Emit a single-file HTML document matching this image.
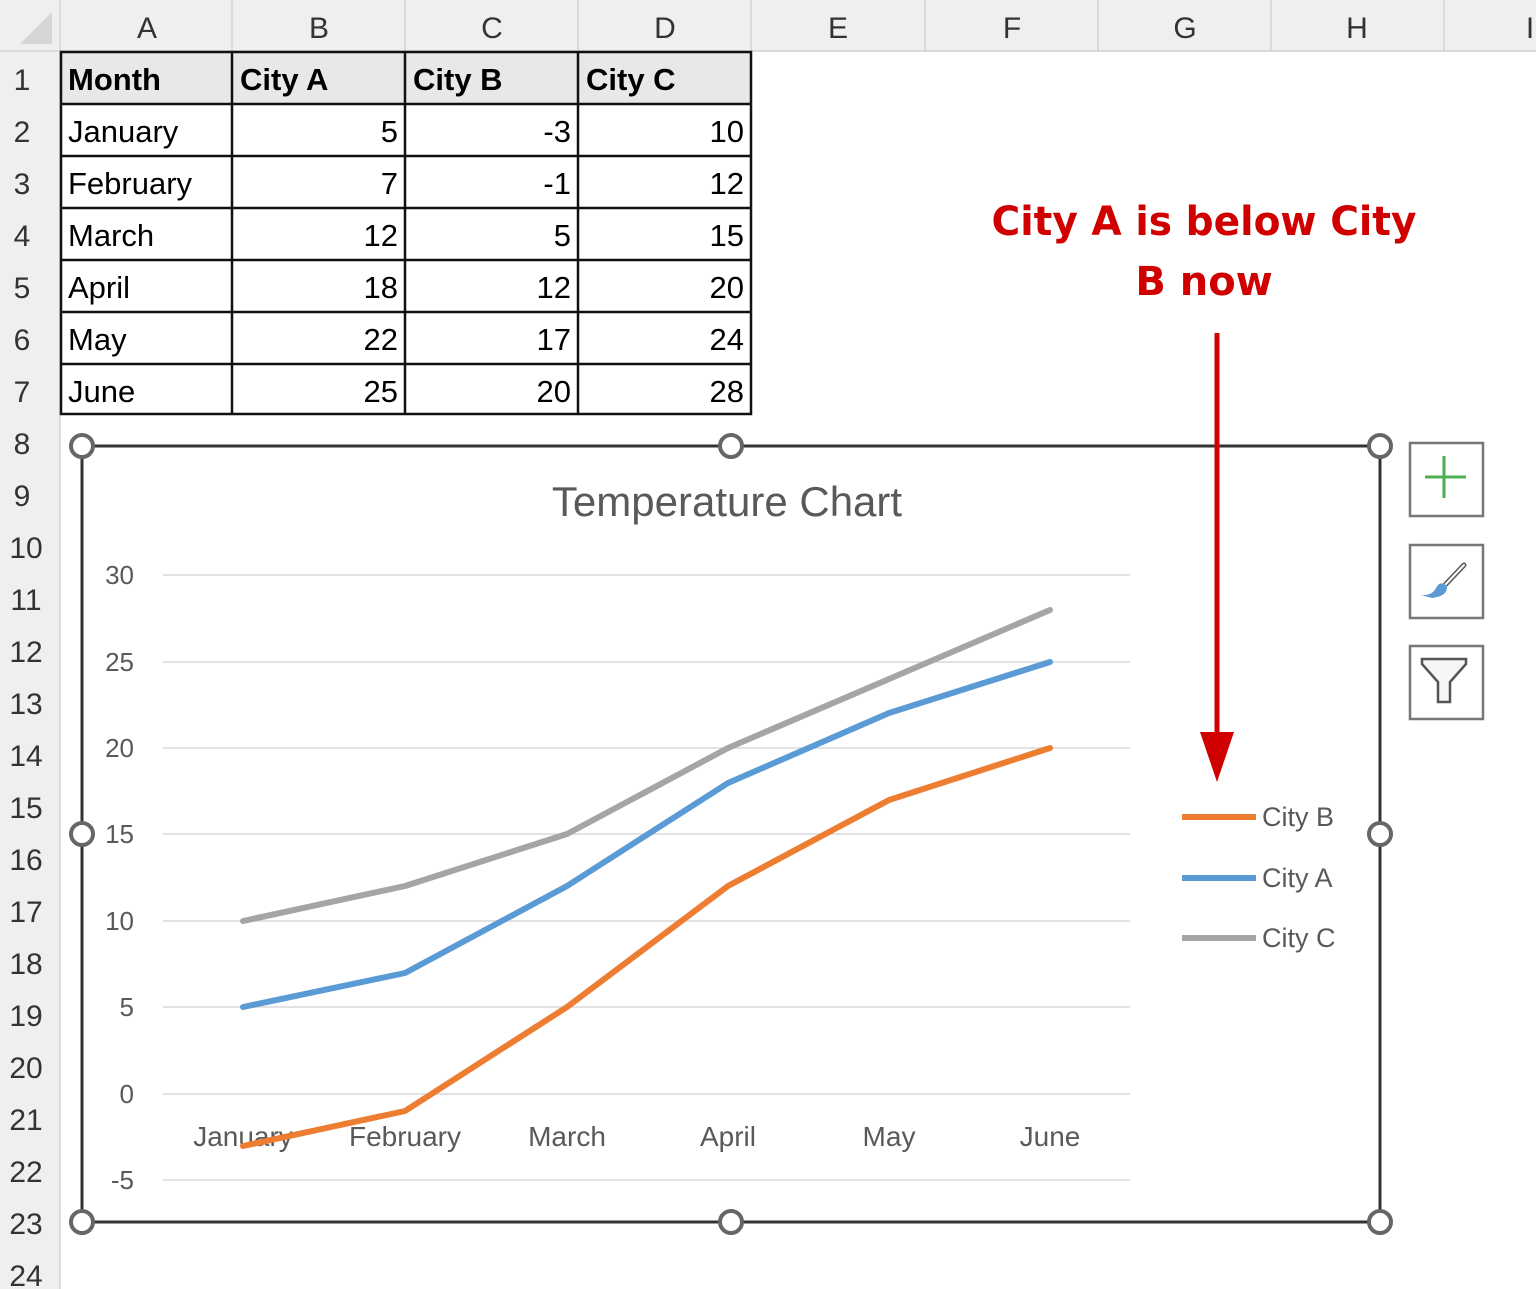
<!DOCTYPE html>
<html><head><meta charset="utf-8"><style>
html,body{margin:0;padding:0;background:#fff;}
svg{display:block;font-family:"Liberation Sans","DejaVu Sans",sans-serif;}
</style></head><body>
<svg width="1536" height="1289" viewBox="0 0 1536 1289" xmlns="http://www.w3.org/2000/svg">
<rect width="1536" height="1289" fill="#fff"/>
<rect x="0" y="0" width="1536" height="52" fill="#efefef"/>
<rect x="0" y="52" width="60" height="1237" fill="#efefef"/>
<polygon points="20,44 52,44 52,12" fill="#d6d6d6"/>
<g stroke="#d4d4d4" stroke-width="1.5">
<line x1="0" y1="51" x2="1536" y2="51"/>
<line x1="60" y1="0" x2="60" y2="1289"/>
<line x1="232" y1="0" x2="232" y2="52"/><line x1="405" y1="0" x2="405" y2="52"/><line x1="578" y1="0" x2="578" y2="52"/><line x1="751" y1="0" x2="751" y2="52"/><line x1="925" y1="0" x2="925" y2="52"/><line x1="1098" y1="0" x2="1098" y2="52"/><line x1="1271" y1="0" x2="1271" y2="52"/><line x1="1444" y1="0" x2="1444" y2="52"/>
</g>
<g font-size="30" fill="#333" text-anchor="middle">
<text x="147" y="38">A</text><text x="319" y="38">B</text><text x="492" y="38">C</text><text x="665" y="38">D</text><text x="838" y="38">E</text><text x="1012" y="38">F</text><text x="1185" y="38">G</text><text x="1357" y="38">H</text><text x="1530" y="38">I</text>
</g>
<g font-size="30" fill="#333" text-anchor="middle">
<text x="22" y="90">1</text><text x="22" y="142">2</text><text x="22" y="194">3</text><text x="22" y="246">4</text><text x="22" y="298">5</text><text x="22" y="350">6</text><text x="22" y="402">7</text><text x="22" y="454">8</text><text x="22" y="506">9</text><text x="26" y="558">10</text><text x="26" y="610">11</text><text x="26" y="662">12</text><text x="26" y="714">13</text><text x="26" y="766">14</text><text x="26" y="818">15</text><text x="26" y="870">16</text><text x="26" y="922">17</text><text x="26" y="974">18</text><text x="26" y="1026">19</text><text x="26" y="1078">20</text><text x="26" y="1130">21</text><text x="26" y="1182">22</text><text x="26" y="1234">23</text><text x="26" y="1286">24</text>
</g>
<rect x="61" y="53" width="690" height="51" fill="#e8e8e8"/>
<g stroke="#111" stroke-width="2.5" fill="none">
<rect x="61" y="52" width="690" height="362"/>
<line x1="232" y1="52" x2="232" y2="414"/><line x1="405" y1="52" x2="405" y2="414"/><line x1="578" y1="52" x2="578" y2="414"/>
<line x1="61" y1="104" x2="751" y2="104"/><line x1="61" y1="156" x2="751" y2="156"/><line x1="61" y1="208" x2="751" y2="208"/><line x1="61" y1="260" x2="751" y2="260"/><line x1="61" y1="312" x2="751" y2="312"/><line x1="61" y1="364" x2="751" y2="364"/>
</g>
<g font-size="31" font-weight="bold" fill="#000"><text x="68" y="90">Month</text><text x="240" y="90">City A</text><text x="413" y="90">City B</text><text x="586" y="90">City C</text></g>
<g font-size="31" fill="#000">
<text x="68" y="142">January</text><text x="68" y="194">February</text><text x="68" y="246">March</text><text x="68" y="298">April</text><text x="68" y="350">May</text><text x="68" y="402">June</text>
</g>
<g font-size="31" fill="#000" text-anchor="end">
<text x="398" y="142">5</text><text x="571" y="142">-3</text><text x="744" y="142">10</text>
<text x="398" y="194">7</text><text x="571" y="194">-1</text><text x="744" y="194">12</text>
<text x="398" y="246">12</text><text x="571" y="246">5</text><text x="744" y="246">15</text>
<text x="398" y="298">18</text><text x="571" y="298">12</text><text x="744" y="298">20</text>
<text x="398" y="350">22</text><text x="571" y="350">17</text><text x="744" y="350">24</text>
<text x="398" y="402">25</text><text x="571" y="402">20</text><text x="744" y="402">28</text>
</g>
<rect x="82" y="446" width="1298" height="776" fill="#fff" stroke="#333" stroke-width="3"/>
<g fill="#fff" stroke="#666" stroke-width="4">
<circle cx="82" cy="446" r="11"/><circle cx="731" cy="446" r="11"/><circle cx="1380" cy="446" r="11"/>
<circle cx="82" cy="834" r="11"/><circle cx="1380" cy="834" r="11"/>
<circle cx="82" cy="1222" r="11"/><circle cx="731" cy="1222" r="11"/><circle cx="1380" cy="1222" r="11"/>
</g>
<text x="727" y="516" font-size="42" fill="#595959" text-anchor="middle">Temperature Chart</text>
<g stroke="#d9d9d9" stroke-width="1.5">
<line x1="163" y1="575" x2="1130" y2="575"/><line x1="163" y1="662" x2="1130" y2="662"/><line x1="163" y1="748" x2="1130" y2="748"/><line x1="163" y1="834" x2="1130" y2="834"/><line x1="163" y1="921" x2="1130" y2="921"/><line x1="163" y1="1007" x2="1130" y2="1007"/><line x1="163" y1="1094" x2="1130" y2="1094"/><line x1="163" y1="1180" x2="1130" y2="1180"/>
</g>
<g font-size="26" fill="#595959" text-anchor="end">
<text x="134" y="584">30</text><text x="134" y="671">25</text><text x="134" y="757">20</text><text x="134" y="843">15</text><text x="134" y="930">10</text><text x="134" y="1016">5</text><text x="134" y="1103">0</text><text x="134" y="1189">-5</text>
</g>
<g font-size="28" fill="#595959" text-anchor="middle">
<text x="243" y="1146">January</text><text x="405" y="1146">February</text><text x="567" y="1146">March</text><text x="728" y="1146">April</text><text x="889" y="1146">May</text><text x="1050" y="1146">June</text>
</g>
<g fill="none" stroke-width="6" stroke-linejoin="round" stroke-linecap="round">
<polyline stroke="#a5a5a5" points="243,921 405,886 567,834 728,748 889,679 1050,610"/>
<polyline stroke="#5b9bd5" points="243,1007 405,973 567,886 728,783 889,713 1050,662"/>
<polyline stroke="#ed7d31" points="243,1146 405,1111 567,1007 728,886 889,800 1050,748"/>
</g>
<g stroke-width="6"><line x1="1182" y1="817" x2="1256" y2="817" stroke="#ed7d31"/><line x1="1182" y1="878" x2="1256" y2="878" stroke="#5b9bd5"/><line x1="1182" y1="938" x2="1256" y2="938" stroke="#a5a5a5"/></g>
<g font-size="27" fill="#595959"><text x="1262" y="826">City B</text><text x="1262" y="887">City A</text><text x="1262" y="947">City C</text></g>
<line x1="1217" y1="333" x2="1217" y2="740" stroke="#d00000" stroke-width="5"/>
<polygon points="1200,732 1234,732 1217,782" fill="#d00000"/>
<g font-family="'DejaVu Sans',sans-serif" font-weight="bold" font-size="40" fill="#d00000" text-anchor="middle">
<text x="1204" y="235" textLength="425" lengthAdjust="spacingAndGlyphs">City A is below City</text><text x="1204" y="295">B now</text>
</g>
<g fill="#fff" stroke="#777" stroke-width="2.5">
<rect x="1410" y="443" width="73" height="73"/><rect x="1410" y="545" width="73" height="73"/><rect x="1410" y="646" width="73" height="73"/>
</g>
<g stroke="#4caf50" stroke-width="3"><line x1="1425" y1="477" x2="1466" y2="477"/><line x1="1444" y1="456" x2="1444" y2="498"/></g>
<line x1="1445" y1="585" x2="1464" y2="565" stroke="#555" stroke-width="5" stroke-linecap="round"/>
<line x1="1445" y1="585" x2="1464" y2="565" stroke="#fff" stroke-width="2" stroke-linecap="round"/>
<path d="M1421,595 Q1432,596 1436,588 Q1440,580 1447,586 Q1448,596 1432,598 Z" fill="#5b9bd5"/>
<path d="M1422,659 L1466,659 L1466,664 L1450,682 L1450,702 L1438,702 L1438,682 L1422,664 Z" fill="#f5f5f5" stroke="#555" stroke-width="2.5"/>
</svg>
</body></html>
